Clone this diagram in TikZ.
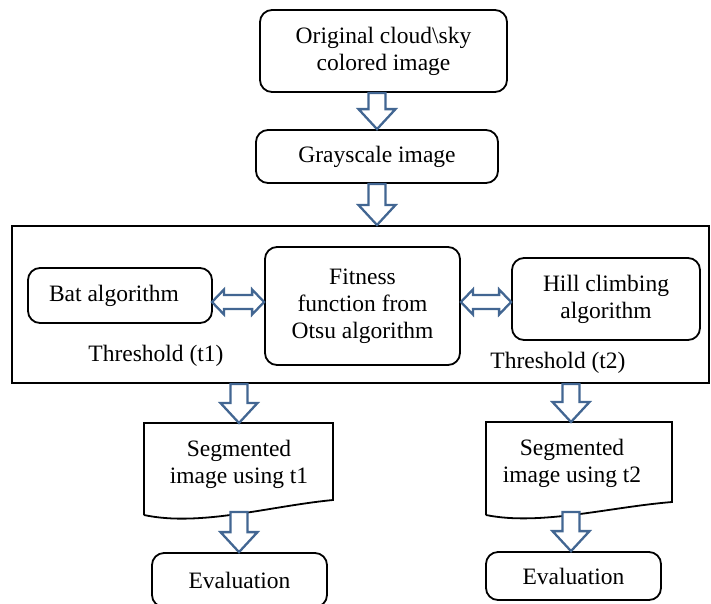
\documentclass[tikz,border=0pt]{standalone}
\usepackage{fontspec}
\setmainfont{Liberation Serif}
\usetikzlibrary{calc}
\definecolor{arrowblue}{RGB}{66,102,146}
\tikzset{
  box/.style={draw=black, line width=1.8pt, rounded corners=12pt, align=center, inner sep=2pt},
  frame/.style={draw=black, line width=2pt},
  harrow/.style={draw=arrowblue, fill=white, line width=2.3pt, line join=miter},
  docline/.style={draw=black, line width=1.8pt},
  lbl/.style={align=center, inner sep=0pt},
}
\newcommand{\hollowdown}[2]{%
  \path[harrow] let \p1=(#1), \p2=(#2) in
    (\x2-8.5pt,\y1) -- (\x2+8.5pt,\y1) -- (\x2+8.5pt,\y2+20pt) -- (\x2+18.5pt,\y2+20pt)
    -- (\x2,\y2) -- (\x2-18.5pt,\y2+20pt) -- (\x2-8.5pt,\y2+20pt) -- cycle;}
\newcommand{\dblarrow}[2]{%
  \path[harrow] let \p1=(#1), \p2=(#2) in
    (\x1,\y1) -- (\x1+12pt,\y1+12.5pt) -- (\x1+12pt,\y1+7pt) -- (\x2-12pt,\y1+7pt)
    -- (\x2-12pt,\y1+12.5pt) -- (\x2,\y1) -- (\x2-12pt,\y1-12.5pt) -- (\x2-12pt,\y1-7pt)
    -- (\x1+12pt,\y1-7pt) -- (\x1+12pt,\y1-12.5pt) -- cycle;}
\begin{document}
\begin{tikzpicture}[x=1pt,y=-1pt, font=\fontsize{23.5}{27}\selectfont]
\useasboundingbox (0,0) rectangle (711,603);

\node[box, minimum width=247pt, minimum height=82pt] (orig) at (383.5,51) {Original cloud\textbackslash sky\\colored image};
\node[box, minimum width=242pt, minimum height=53pt] (gray) at (377,156.5) {Grayscale image};
\node[frame, minimum width=697pt, minimum height=157pt, inner sep=0pt] (big) at (360.5,304.5) {};

\node[box, minimum width=184pt, minimum height=55pt] (bat) at (120,295.5) {\hspace*{-12pt}Bat algorithm};
\node[box, minimum width=195pt, minimum height=118pt] (fit) at (362.5,306) {Fitness\\function from\\Otsu algorithm};
\node[box, minimum width=188pt, minimum height=82pt] (hill) at (606,299) {Hill climbing\\algorithm};
\node[lbl] (th1) at (156,356) {Threshold (t1)};
\node[lbl] (th2) at (558,363) {Threshold (t2)};

% documents
\coordinate (dLtl) at (144,423);
\coordinate (dLtr) at (333,423);
\coordinate (dLbl) at (144,515);
\coordinate (dLbr) at (333,500);
\node[lbl] (segL) at (239,464) {Segmented\\image using t1};
\draw[docline] (dLbl) -- (dLtl) -- (dLtr) -- (dLbr)
  .. controls (270,506) and (200,527) .. (dLbl);
\coordinate (dLtop) at (239,423);
\coordinate (dLbot) at (239,512);

\coordinate (dRtl) at (486,422);
\coordinate (dRtr) at (672,422);
\coordinate (dRbl) at (486,515);
\coordinate (dRbr) at (672,502);
\node[lbl] (segR) at (572,463) {Segmented\\image using t2};
\draw[docline] (dRbl) -- (dRtl) -- (dRtr) -- (dRbr)
  .. controls (610,507) and (540,526) .. (dRbl);
\coordinate (dRtop) at (571,422);
\coordinate (dRbot) at (571,512);

\node[box, minimum width=175pt, minimum height=54pt] (evL) at (239.5,580) {Evaluation};
\node[box, minimum width=175pt, minimum height=48pt] (evR) at (573.5,576) {Evaluation};

% arrows
\coordinate (a1) at (orig.south -| 377,0);
\hollowdown{a1}{gray.north}
\coordinate (a2) at (gray.south);
\coordinate (a2t) at (big.north -| gray.south);
\hollowdown{a2}{a2t}
\coordinate (a3s) at (big.south -| dLtop);
\hollowdown{a3s}{dLtop}
\coordinate (a4s) at (big.south -| dRtop);
\hollowdown{a4s}{dRtop}
\coordinate (a5t) at (evL.north -| dLbot);
\hollowdown{dLbot}{a5t}
\coordinate (a6t) at (evR.north -| dRbot);
\hollowdown{dRbot}{a6t}

\coordinate (b1) at (212,302);
\coordinate (b2) at (fit.west |- b1);
\dblarrow{b1}{b2}
\coordinate (c1) at (fit.east |- b1);
\coordinate (c2) at (hill.west |- b1);
\dblarrow{c1}{c2}
\end{tikzpicture}
\end{document}
